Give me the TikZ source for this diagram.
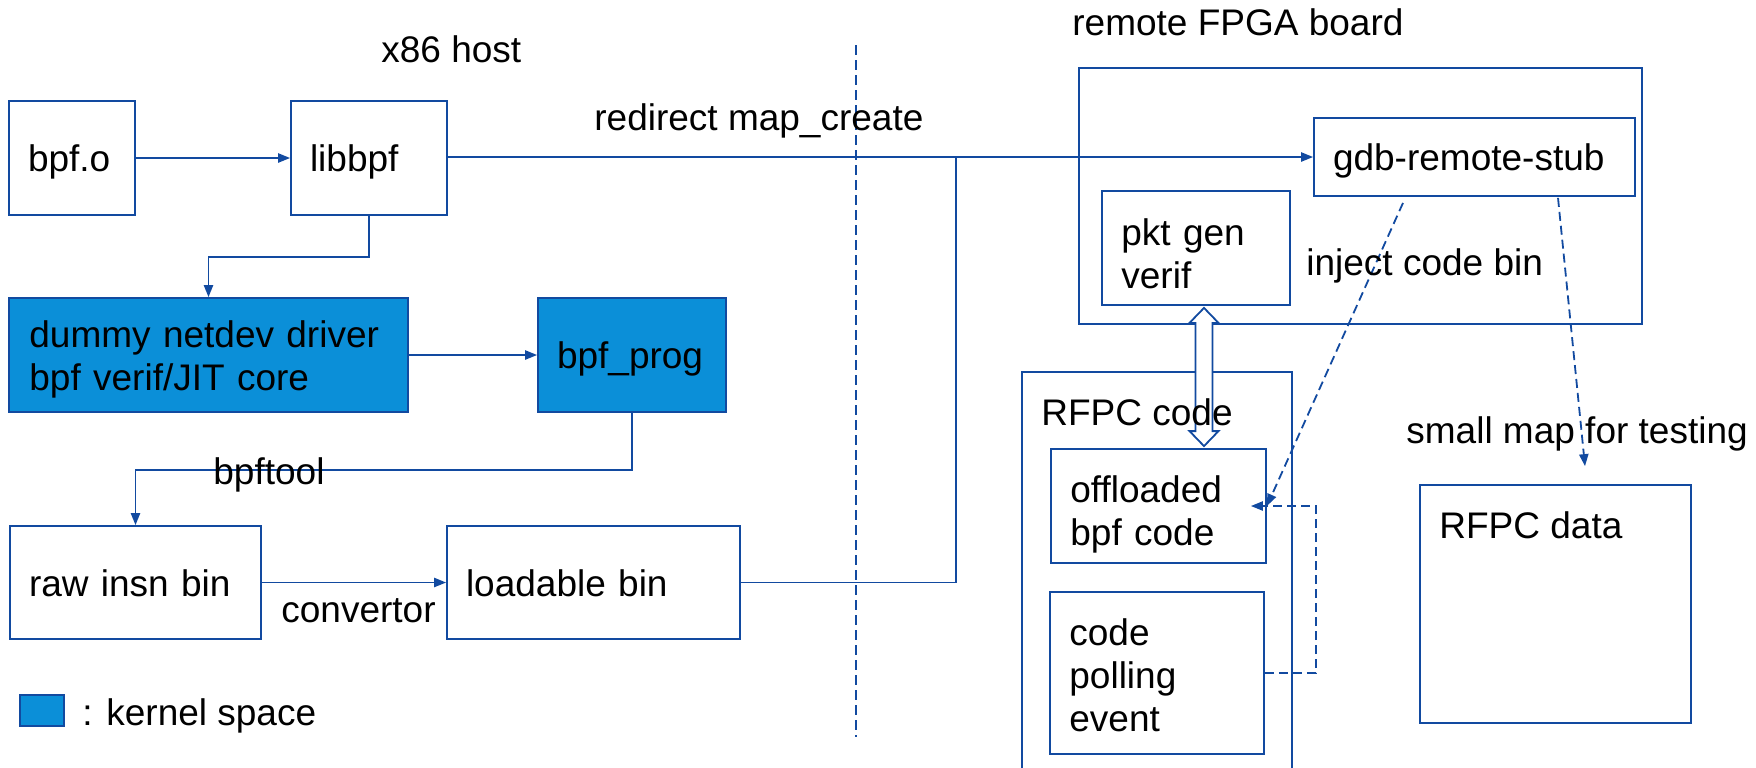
\documentclass[tikz,border=0pt]{standalone}
\usepackage{fontspec}
\setmainfont{Liberation Sans}
\usetikzlibrary{arrows.meta,calc}
\definecolor{ln}{RGB}{18,74,160}
\definecolor{kfill}{RGB}{11,143,216}
\begin{document}
\begin{tikzpicture}[x=0.5pt,y=-0.5pt,
  every node/.style={font=\fontsize{18.5}{21.5}\selectfont, text=black},
  cbox/.style={draw=ln, line width=0.9pt, rectangle, inner sep=0pt},
  box/.style={cbox, inner xsep=9.5pt, align=left, text height=13.5pt, text depth=0pt},
  kbox/.style={box, fill=kfill},
  kcbox/.style={cbox, fill=kfill},
  lbl/.style={inner sep=0pt, anchor=base west},
  mlbl/.style={lbl, align=left},
  wire/.style={draw=ln, line width=0.9pt},
  conn/.style={wire, -{Triangle[length=6pt,width=4.6pt]}},
  dconn/.style={conn, dash pattern=on 4.5pt off 2.5pt},
]
\useasboundingbox (0,0) rectangle (1756,767);
\clip (0,0) rectangle (1756,767);

% containers on the FPGA side
\node[cbox, minimum width=281.5pt, minimum height=128pt] (fpga) at (1360.5,196) {};
\node[cbox, minimum width=135pt, minimum height=214pt] (rfpccode) at (1157,586) {};
\node[cbox, minimum width=135.5pt, minimum height=119pt] (data) at (1555.5,604) {};

% host side blocks
\node[box, minimum height=57pt, text width=44pt] (bpfo) at (72,158) {bpf.o};
\node[box, minimum height=57pt, text width=59pt] (libbpf) at (369,158) {libbpf};
\node[kcbox, minimum width=199.5pt, minimum height=57pt] (dummy) at (208.5,355) {};
\node[kbox, minimum height=57pt, text width=75pt] (bpfprog) at (632,355) {bpf\_prog};
\node[box, minimum height=56.5pt, text width=106.5pt] (raw) at (135.5,582.5) {raw insn bin};
\node[box, minimum height=56.5pt, text width=127.5pt] (loadable) at (593.5,582.5) {loadable bin};

% board side blocks
\node[box, minimum height=39pt, text width=141.5pt] (gdb) at (1474.5,157) {gdb-remote-stub};
\node[cbox, minimum width=94pt, minimum height=57pt] (pkt) at (1196,248) {};
\node[cbox, minimum width=107.5pt, minimum height=57pt] (offl) at (1158.5,506) {};
\node[cbox, minimum width=107pt, minimum height=81pt] (poll) at (1157,673) {};

% two-line and three-line texts inside the blocks
\node[mlbl, text width=185pt] (dummytxt) at (29,347) {dummy netdev driver\\bpf verif/JIT core};
\node[mlbl, text width=80pt] (pkttxt) at (1121,245) {pkt gen\\verif};
\node[mlbl, text width=92pt] (offltxt) at (1070,502) {offloaded\\bpf code};
\node[mlbl, text width=92pt] (polltxt) at (1069,645) {code\\polling\\event};

% legend
\node[kcbox, minimum width=22pt, minimum height=15.5pt] (legendbox) at (42,710.5) {};

% host / board separator
\draw[wire, dash pattern=on 5pt off 2.5pt] (856,45) -- (856,737);

% solid connectors
\coordinate (merge) at (956,157);
\draw[conn] (bpfo) -- (libbpf);
\draw[conn] (libbpf.south) -- ++(0,41) -| (dummy.north);
\draw[conn] (dummy) -- (bpfprog);
\draw[conn] (bpfprog.south) -- ++(0,57) -| (raw.north);
\draw[conn] (raw) -- (loadable);
\draw[conn] (libbpf.east |- gdb.west) -- (gdb.west);
\draw[wire] (loadable.east) -| (merge);

% dashed connectors
\draw[dconn] ([xshift=-35.75pt,yshift=-3pt]gdb.south) -- (offl.east);
\draw[dconn] ([xshift=41.75pt,yshift=-0.5pt]gdb.south) -- ([xshift=14.75pt,yshift=9pt]data.north);
\draw[dconn] (poll.east) -- ++(51,0) |- ([xshift=-8pt]offl.east);

% hollow two-way arrow between pkt gen and offloaded code
\draw[ln, line width=0.9pt, fill=white]
  let \p1=([xshift=4pt,yshift=-1pt]pkt.south), \p2=([yshift=1pt]offl.north) in
  (\x1,\y1) -- (\x1+7.25pt,\y1-7.5pt) -- (\x1+4.25pt,\y1-7.5pt) -- (\x1+4.25pt,\y2+7.5pt)
  -- (\x1+7.25pt,\y2+7.5pt) -- (\x1,\y2) -- (\x1-7.25pt,\y2+7.5pt) -- (\x1-4.25pt,\y2+7.5pt)
  -- (\x1-4.25pt,\y1-7.5pt) -- (\x1-7.25pt,\y1-7.5pt) -- cycle;

% free labels
\node[lbl] (host) at (381,62) {x86 host};
\node[lbl] (board) at (1072,35) {remote FPGA board};
\node[lbl] (redir) at (594,130) {redirect map\_create};
\node[lbl] (tool) at (213,484) {bpftool};
\node[lbl] (conv) at (281,622) {convertor};
\node[lbl] (inject) at (1306,275) {inject code bin};
\node[lbl] (codelbl) at (1041,425) {RFPC code};
\node[lbl] (smallmap) at (1406,443) {small map for testing};
\node[lbl] (datalbl) at (1439,538) {RFPC data};
\node[lbl] (legendtxt) at (82,725) {: kernel space};
\end{tikzpicture}
\end{document}
